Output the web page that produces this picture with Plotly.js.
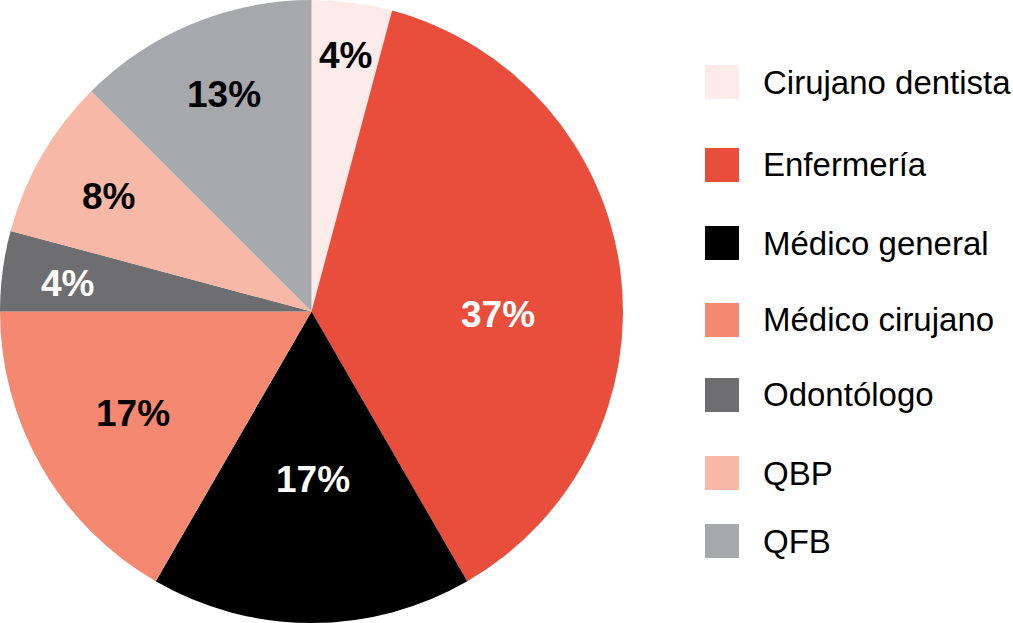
<!DOCTYPE html>
<html>
<head>
<meta charset="utf-8">
<script src="https://cdn.plot.ly/plotly-3.0.1.min.js"></script>
<style>
  html, body { margin: 0; padding: 0; background: #ffffff; }
  #chart { width: 1013px; height: 623px; }
</style>
</head>
<body>
<div id="chart"></div>
<script>
// ---- data ----
const categories = ["Cirujano dentista", "Enfermería", "Médico general", "Médico cirujano", "Odontólogo", "QBP", "QFB"];
const counts = [1, 9, 4, 4, 1, 2, 3];
const pctLabels = ["4%", "37%", "17%", "17%", "4%", "8%", "13%"];
const colors = ["#FCEBE8", "#E84E3B", "#000000", "#F58871", "#6E6E71", "#F7B8A8", "#A7A8AC"];
const textColors = ["#000000", "#ffffff", "#ffffff", "#000000", "#ffffff", "#000000", "#000000"];

// ---- layout / style constants ----
const W = 1013, H = 623;
const FONT = "Liberation Sans, Arial, sans-serif";
const legendX = 705, legendSq = 34, legendTextX = 761;
const legendRowY = [82, 165, 243, 320, 395, 473, 541];
// label placement inside slices: radial fraction and angle nudge (degrees)
const labelRadius = [0.83, 0.60, 0.54, 0.66, 0.79, 0.75, 0.75];
const labelAngleNudge = [0, 8.3, -0.5, 0.3, -0.9, -0.5, 0.5];

const pieCx = 311.5, pieCy = 311.5, pieR = 311.5;

const trace = {
  type: "pie",
  labels: categories,
  values: counts,
  textinfo: "none",
  sort: false,
  direction: "clockwise",
  rotation: 0,
  marker: { colors: colors, line: { width: 0 } },
  hoverinfo: "label+percent",
  domain: { x: [0, 623 / W], y: [0, 1] },
  showlegend: false
};

const shapes = [];
const annotations = [];

// slice labels, at angles derived from the values
const total = counts.reduce((a, b) => a + b, 0);
let cum = 0;
counts.forEach((v, i) => {
  const mid = (cum + v / 2) / total * 360 + labelAngleNudge[i];
  cum += v;
  const t = mid * Math.PI / 180;
  const px = pieCx + labelRadius[i] * pieR * Math.sin(t);
  const py = pieCy - labelRadius[i] * pieR * Math.cos(t);
  annotations.push({
    xref: "paper", yref: "paper",
    x: px / W, y: 1 - py / H,
    xanchor: "center", yanchor: "middle",
    text: "<b>" + pctLabels[i] + "</b>", showarrow: false,
    font: { family: FONT, size: 37, color: textColors[i] }
  });
});

// legend
categories.forEach((c, i) => {
  const yc = legendRowY[i];
  shapes.push({
    type: "rect", xref: "paper", yref: "paper",
    x0: legendX / W, x1: (legendX + legendSq) / W,
    y0: 1 - (yc + legendSq / 2) / H, y1: 1 - (yc - legendSq / 2) / H,
    fillcolor: colors[i], line: { width: 0 }
  });
  annotations.push({
    xref: "paper", yref: "paper",
    x: legendTextX / W, y: 1 - yc / H,
    xanchor: "left", yanchor: "middle",
    text: c, showarrow: false,
    font: { family: FONT, size: 33, color: "#000000" }
  });
});

const layout = {
  width: W, height: H,
  margin: { l: 0, r: 0, t: 0, b: 0 },
  paper_bgcolor: "#ffffff",
  plot_bgcolor: "#ffffff",
  showlegend: false,
  shapes: shapes,
  annotations: annotations
};

Plotly.newPlot("chart", [trace], layout, { displayModeBar: false, staticPlot: true });
</script>
</body>
</html>
